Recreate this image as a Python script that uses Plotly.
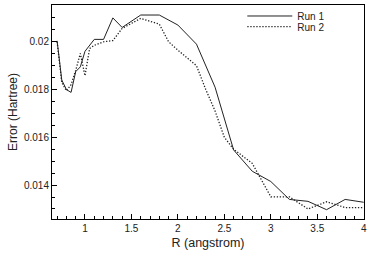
import plotly.graph_objects as go

# Data
r_run1 = [0.70, 0.75, 0.80, 0.85, 0.90, 0.95, 1.00, 1.10, 1.20, 1.30, 1.40, 1.60, 1.80,
          2.00, 2.20, 2.40, 2.60, 2.80, 3.00, 3.20, 3.40, 3.60, 3.80, 4.00]
err_run1 = [0.02004, 0.0184, 0.0180, 0.01788, 0.01875, 0.01895, 0.0196, 0.0201, 0.0201,
            0.0210, 0.0206, 0.02112, 0.02112, 0.02070, 0.0199, 0.0181, 0.01547, 0.01458,
            0.01415, 0.0134, 0.01332, 0.01297, 0.0134, 0.01328]

r_run2 = [0.70, 0.75, 0.80, 0.85, 0.90, 0.95, 1.00, 1.05, 1.10, 1.20, 1.30, 1.40, 1.60,
          1.80, 1.90, 2.00, 2.20, 2.30, 2.40, 2.50, 2.60, 2.80, 3.00, 3.20, 3.40, 3.60,
          3.80, 4.00]
err_run2 = [0.0200, 0.0183, 0.01795, 0.0182, 0.0188, 0.01951, 0.01858, 0.01972, 0.01985,
            0.0200, 0.02005, 0.02056, 0.02098, 0.02074, 0.0200, 0.01965, 0.0190, 0.0180,
            0.0171, 0.0160, 0.01550, 0.01491, 0.01351, 0.01351, 0.01300, 0.0133, 0.01306,
            0.01306]

x_tickvals = [1, 1.5, 2, 2.5, 3, 3.5, 4]
x_ticktext = ["1", "1.5", "2", "2.5", "3", "3.5", "4"]
y_tickvals = [0.014, 0.016, 0.018, 0.020]
y_ticktext = ["0.014", "0.016", "0.018", "0.02"]

font_family = "Liberation Sans, Arial, Helvetica, sans-serif"

fig = go.Figure()
fig.add_trace(go.Scatter(x=r_run1, y=err_run1, mode="lines", name="Run 1",
                         line=dict(color="#222222", width=1), legend="legend"))
fig.add_trace(go.Scatter(x=r_run2, y=err_run2, mode="lines", name="Run 2",
                         line=dict(color="#222222", width=1.3, dash="1.3px,1.7px"),
                         legend="legend2"))

axis_common = dict(
    showline=True, linecolor="black", linewidth=1, mirror=True,
    showgrid=False, zeroline=False, automargin=True,
    ticks="inside", ticklen=5, tickcolor="black", tickwidth=1,
    tickfont=dict(size=10, color="#222222", family=font_family),
)

fig.update_xaxes(
    range=[0.645, 4.003], tickvals=x_tickvals, ticktext=x_ticktext,
    minor=dict(dtick=0.1, tick0=0, ticks="inside", ticklen=3, tickcolor="black", showgrid=False),
    title=dict(text="R (angstrom)", font=dict(size=12.5, color="#222222", family=font_family),
               standoff=5),
    **axis_common,
)
fig.update_yaxes(
    range=[0.01258, 0.02154], tickvals=y_tickvals, ticktext=y_ticktext,
    minor=dict(dtick=0.0005, tick0=0, ticks="inside", ticklen=3, tickcolor="black", showgrid=False),
    title=dict(text="Error (Hartree)", font=dict(size=12, color="#222222", family=font_family),
               standoff=3),
    **axis_common,
)

legend_style = dict(xanchor="left", yanchor="middle", bgcolor="rgba(0,0,0,0)", borderwidth=0,
                    font=dict(size=10, family=font_family, color="#222222"), itemwidth=45)

fig.update_layout(
    width=374, height=264,
    margin=dict(l=52, r=10, t=5, b=45, autoexpand=False),
    paper_bgcolor="white", plot_bgcolor="white",
    font=dict(family=font_family, size=10, color="#222222"),
    showlegend=True,
    legend=dict(x=0.61, y=0.9486, **legend_style),
    legend2=dict(x=0.61, y=0.8986, **legend_style),
)

fig.write_html("out.html", config={"displayModeBar": False},
               post_script="document.body.style.margin='0';")
